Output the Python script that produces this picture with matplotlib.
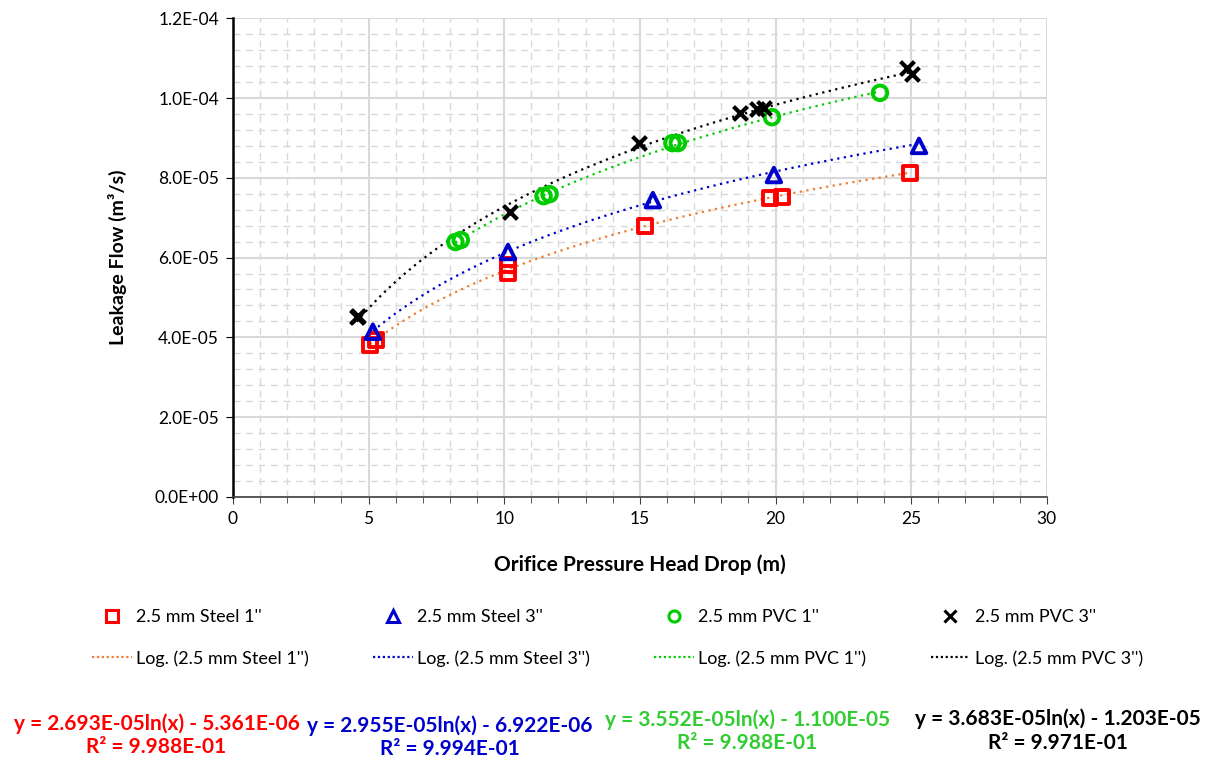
import numpy as np
import matplotlib
matplotlib.use('Agg')
import matplotlib.pyplot as plt
from matplotlib.ticker import MultipleLocator, FuncFormatter
from matplotlib.lines import Line2D

plt.rcParams['font.family'] = ['Lato', 'DejaVu Sans']

# measured points: head drop (m) vs leakage flow (m3/s)
steel1_x = [5.05, 5.27, 10.14, 10.14, 15.19, 19.79, 20.24, 24.95]
steel1_y = [38.1e-6, 39.3e-6, 58.1e-6, 56.1e-6, 67.9e-6, 74.9e-6, 75.2e-6, 81.2e-6]

steel3_x = [5.16, 10.14, 15.48, 19.94, 25.29]
steel3_y = [41.4e-6, 61.4e-6, 74.4e-6, 80.7e-6, 88.0e-6]

pvc1_x = [8.2, 8.4, 11.45, 11.67, 16.2, 16.4, 19.87, 23.85]
pvc1_y = [63.9e-6, 64.4e-6, 75.4e-6, 75.9e-6, 88.7e-6, 88.7e-6, 95.2e-6, 101.3e-6]

pvc3_x = [4.57, 4.62, 10.21, 14.97, 18.69, 19.31, 19.57, 24.84, 25.03]
pvc3_y = [45.1e-6, 45.4e-6, 71.4e-6, 88.7e-6, 96.2e-6, 97.2e-6, 97.5e-6, 107.5e-6, 106.0e-6]

# log trendline coefficients  y = a ln(x) + b
fit_a = [2.693e-05, 2.955e-05, 3.552e-05, 3.683e-05]
fit_b = [-5.361e-06, -6.922e-06, -1.100e-05, -1.203e-05]
fit_r2 = ['9.988E-01', '9.994E-01', '9.988E-01', '9.971E-01']

names = ["2.5 mm Steel 1''", "2.5 mm Steel 3''", "2.5 mm PVC 1''", "2.5 mm PVC 3''"]
xs = [steel1_x, steel3_x, pvc1_x, pvc3_x]
ys = [steel1_y, steel3_y, pvc1_y, pvc3_y]
markers = ['s', '^', 'o', 'x']
mcolors = ['#ff0000', '#0000cc', '#00cc00', '#000000']
lcolors = ['#ed7d31', '#0000cc', '#00cc00', '#000000']
eqcolors = ['#ff0000', '#0000cc', '#33cc33', '#000000']

fig = plt.figure(figsize=(12.13, 7.62), dpi=100)
ax = fig.add_axes([0.192, 0.348, 0.671, 0.628])

handles = []
for i in range(4):
    xx = np.linspace(min(xs[i]), max(xs[i]), 200)
    yy = fit_a[i] * np.log(xx) + fit_b[i]
    ax.plot(xx, yy, color=lcolors[i], lw=1.6, ls=(0, (1, 2)), zorder=3)
    if markers[i] == 'x':
        ax.scatter(xs[i], ys[i], marker='x', s=100, color=mcolors[i], linewidths=3.0, zorder=4)
        mh = Line2D([], [], ls='none', marker='x', ms=8, mew=2.2, color=mcolors[i])
    else:
        ax.scatter(xs[i], ys[i], marker=markers[i], s=110, facecolors='none',
                   edgecolors=mcolors[i], linewidths=2.8, zorder=4)
        mh = Line2D([], [], ls='none', marker=markers[i], ms=8, mew=2.2,
                    mfc='none', mec=mcolors[i])
    lh = Line2D([], [], color=lcolors[i], lw=1.6, ls=(0, (1, 1.2)))
    handles += [mh, lh]

labels = []
for n in names:
    labels += [n, 'Log. (' + n + ')']

ax.set_xlim(0, 30)
ax.set_ylim(0, 1.2e-4)
ax.xaxis.set_major_locator(MultipleLocator(5))
ax.xaxis.set_minor_locator(MultipleLocator(1))
ax.yaxis.set_major_locator(MultipleLocator(2e-5))
ax.yaxis.set_minor_locator(MultipleLocator(4e-6))
ax.yaxis.set_major_formatter(FuncFormatter(lambda v, p: f'{v:.1E}'))

ax.grid(which='major', color='#d9d9d9', lw=1.5, ls='-', zorder=0)
ax.grid(which='minor', color='#d9d9d9', lw=1.0, ls=(0, (5, 4)), zorder=0)
ax.set_axisbelow(True)

for s in ['top', 'right']:
    ax.spines[s].set_visible(False)
ax.spines['left'].set_linewidth(1.8)
ax.spines['left'].set_color('black')
ax.spines['bottom'].set_linewidth(1.2)
ax.spines['bottom'].set_color('#404040')

ax.tick_params(axis='both', which='major', labelsize=12.5, direction='out', length=5, pad=5)
ax.tick_params(axis='x', which='minor', direction='out', length=4, color='#404040')
ax.tick_params(axis='y', which='minor', length=0)
ax.tick_params(axis='x', which='major', color='#404040')

ax.set_xlabel('Orifice Pressure Head Drop (m)', fontsize=15, fontweight='bold', labelpad=20)
ax.set_ylabel('Leakage Flow (m³/s)', fontsize=14, fontweight='bold', labelpad=20)

fig.legend(handles, labels, ncol=4, loc='center', bbox_to_anchor=(0.509, 0.163),
           frameon=False, fontsize=13, handlelength=2.2, handletextpad=0.25,
           columnspacing=3.55, labelspacing=1.4)

# trendline equations under the legend
eq_pos = [(0.129, 0.035), (0.371, 0.033), (0.616, 0.040), (0.872, 0.041)]
for i in range(4):
    a = fit_a[i]
    b = fit_b[i]
    txt = f'y = {a:.3E}ln(x) - {abs(b):.3E}\nR² = {fit_r2[i]}'
    fig.text(eq_pos[i][0], eq_pos[i][1], txt, ha='center', va='center',
             fontsize=15, fontweight='bold', color=eqcolors[i], linespacing=1.2)

fig.savefig('out.png', dpi=100)
